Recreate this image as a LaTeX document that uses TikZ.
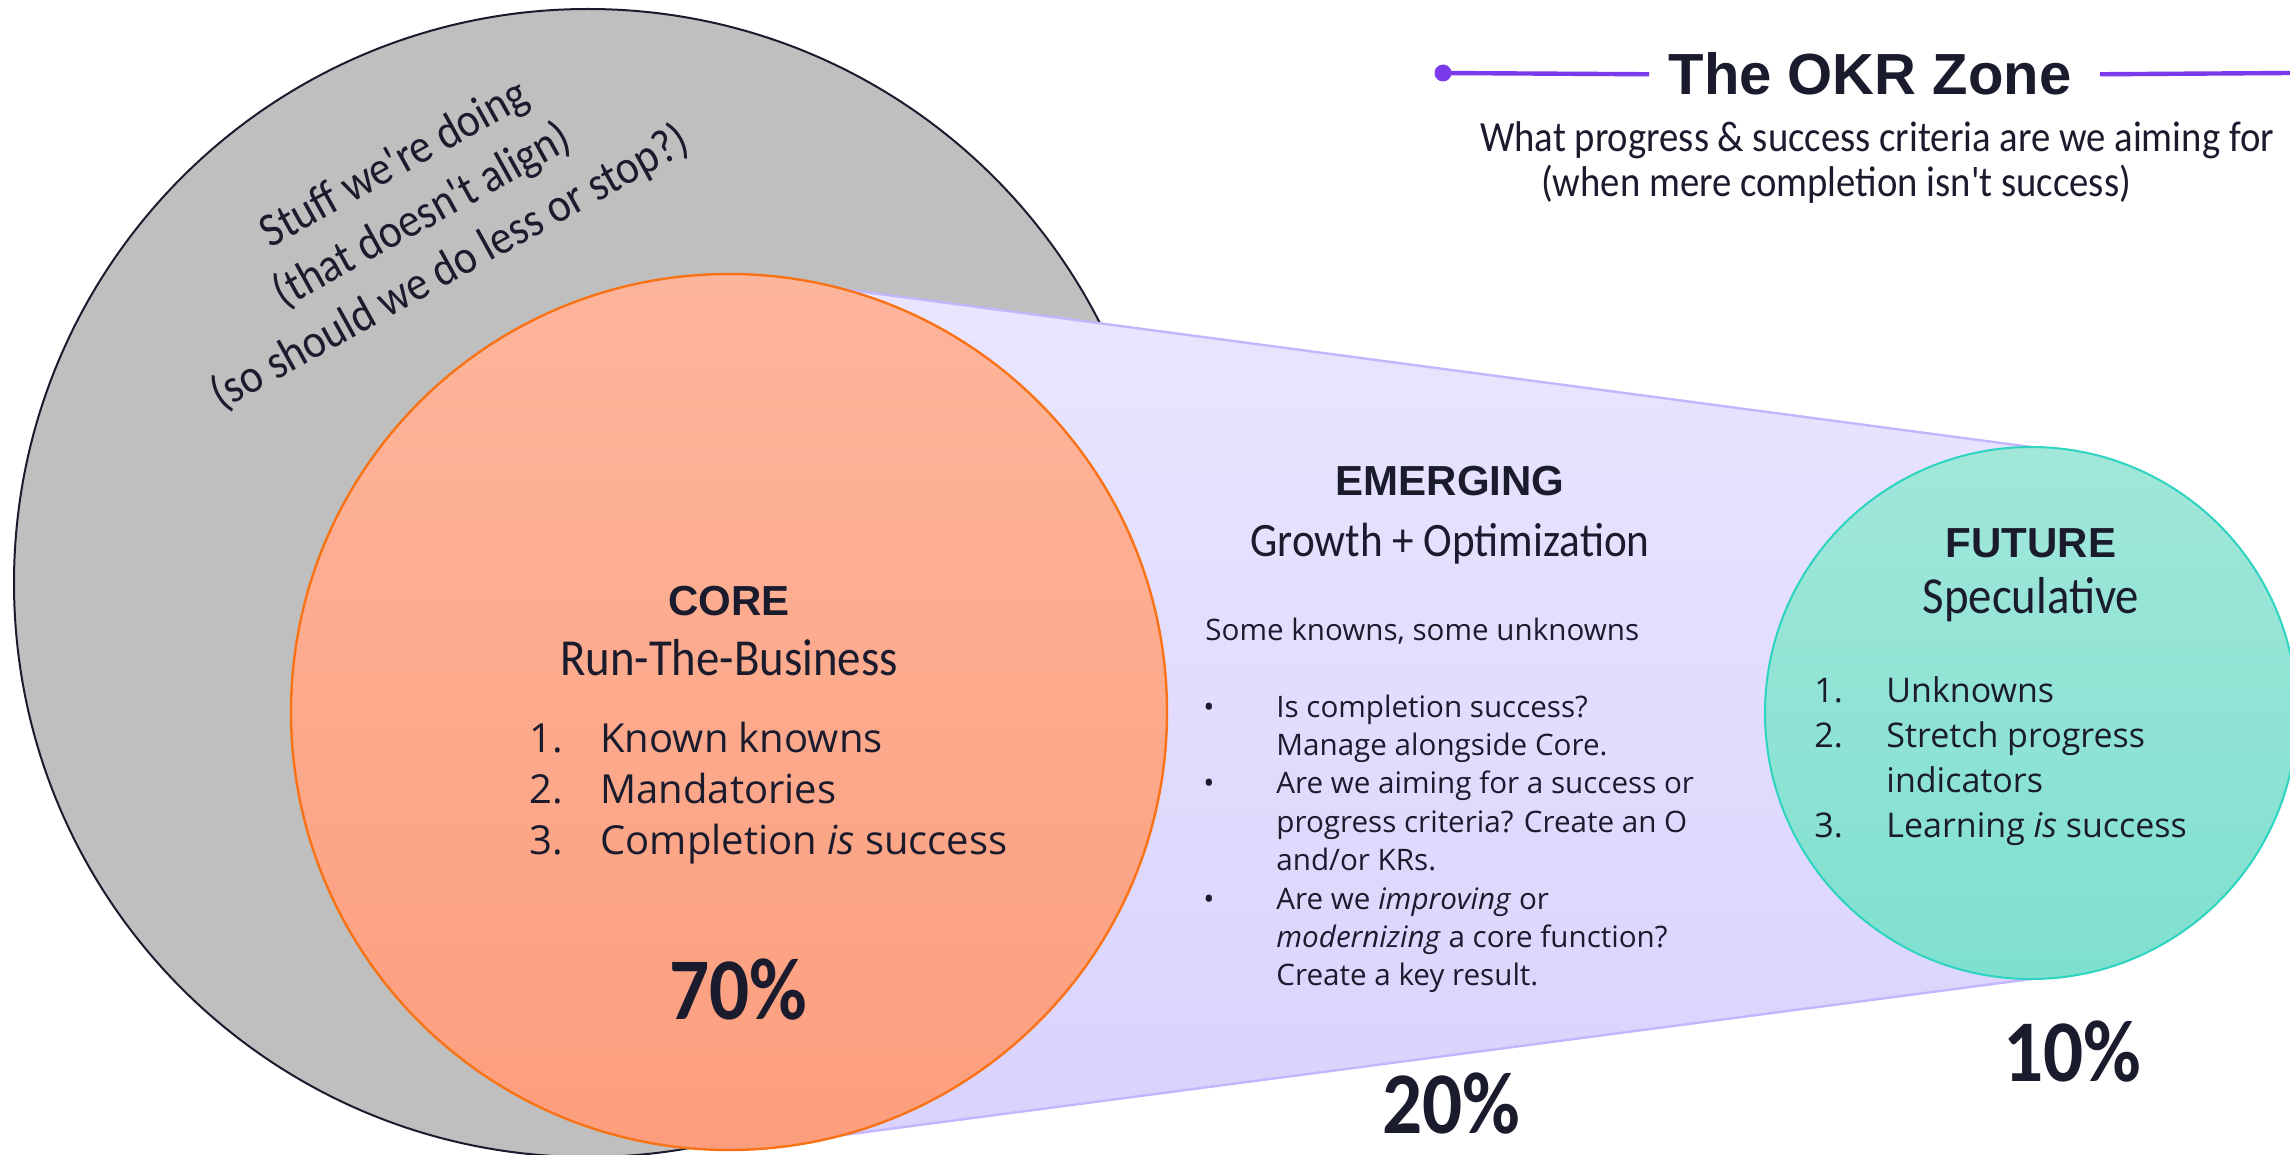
\documentclass[tikz,border=0pt]{standalone}
\usepackage{fontspec}
\setmainfont{Open Sans}
\newfontfamily\headfont{Liberation Sans}
\newfontfamily\handfont{Carlito}[FakeStretch=0.9]
\usetikzlibrary{backgrounds}

\definecolor{ink}{HTML}{1B1B2E}
\definecolor{stuffgray}{HTML}{BFBFBF}
\definecolor{coretop}{HTML}{FDB59B}
\definecolor{corebot}{HTML}{FC9E7D}
\definecolor{coreline}{HTML}{F97316}
\definecolor{emtop}{HTML}{EAE6FE}
\definecolor{embot}{HTML}{D9D2FD}
\definecolor{emline}{HTML}{C4B5FD}
\definecolor{futtop}{HTML}{A1E7DA}
\definecolor{futbot}{HTML}{7FE0CF}
\definecolor{futline}{HTML}{2DD4BF}
\definecolor{zoneline}{HTML}{7C3AED}

\tikzset{
    zone/.style={circle, inner sep=0pt, outer sep=0pt},
    head/.style={font=\headfont\bfseries\fontsize{21}{24}\selectfont, text=ink, inner sep=0pt},
    hand/.style={font=\handfont\fontsize{26}{30}\selectfont, text=ink, inner sep=0pt},
    pct/.style={font=\handfont\bfseries\fontsize{44}{48}\selectfont, text=ink, inner sep=0pt},
    item/.style={text=ink, inner sep=0pt},
}

\begin{document}
\begin{tikzpicture}[x=0.5pt, y=-0.5pt]
        \useasboundingbox (0,0) rectangle (2290,1155);

        \node[zone, minimum size=438pt, top color=coretop, bottom color=corebot, draw=coreline, line width=1.2pt] (core) at (729,712) {};
        \node[zone, minimum size=266pt, top color=futtop, bottom color=futbot, draw=futline, line width=1pt] (future) at (2031,713) {};

        \begin{pgfonlayer}{background}
                \node[zone, minimum size=574pt, fill=stuffgray, draw=ink, line width=1pt] (stuff) at (588,583) {};
                \path[top color=emtop, bottom color=embot, draw=emline, line width=1.2pt]
                        (core.north) -- (future.north) -- (future.south) -- (core.south) -- cycle;
        \end{pgfonlayer}

        % heading
        \node[circle, fill=zoneline, minimum size=8.5pt, inner sep=0pt] (dot) at (1443,73) {};
        \node[head, font=\headfont\bfseries\fontsize{29}{32}\selectfont, anchor=base] (zone) at (1870,95) {The OKR Zone};
        \coordinate (ruleend) at (2290,73);
        \draw[zoneline, line width=2.2pt] (dot.center) -- ([xshift=-9.5pt]zone.west);
        \draw[zoneline, line width=2.2pt] ([xshift=14pt]zone.east) -- (ruleend);
        \node[hand, font=\handfont\fontsize{21.5}{24}\selectfont, anchor=base] (ask1) at (1877,152) {What progress \& success criteria are we aiming for};
        \node[hand, font=\handfont\fontsize{21.5}{24}\selectfont, anchor=base] (ask2) at (1836,197) {(when mere completion isn't success)};

        % lines in the grey circle
        \foreach \t/\x/\y [count=\i] in {Stuff we're doing/401/176, (that doesn't align)/429/228, (so should we do less or stop?)/457/280} {
                \node[hand, font=\handfont\fontsize{24}{28}\selectfont, anchor=base, rotate=29] (stufftext\i) at (\x,\y) {\t};
            }

        % core
        \node[head, anchor=base] (coretitle) at (729,615) {CORE};
        \node[hand, anchor=base] (coresub) at (729,675) {Run-The-Business};
        \foreach \t [count=\i] in {Known knowns, Mandatories, Completion \emph{is} success} {
                \node[item, font=\fontsize{20}{24}\selectfont, anchor=base west] (corenum\i) at (529,{752+51*(\i-1)}) {\i.};
                \node[item, font=\fontsize{20}{24}\selectfont, anchor=base west] (coreitem\i) at (600,{752+51*(\i-1)}) {\t};
            }
        \node[pct, anchor=base] (corepct) at (738,1019) {70\%};

        % emerging
        \node[head, anchor=base] (emtitle) at (1450,495) {EMERGING};
        \node[hand, font=\handfont\fontsize{24}{28}\selectfont, anchor=base] (emsub) at (1450,556) {Growth + Optimization};
        \node[item, font=\fontsize{14.8}{18}\selectfont, anchor=base west] (emintro) at (1205,640) {Some knowns, some unknowns};
        \foreach \t [count=\i] in {Is completion success?, Manage alongside Core., Are we aiming for a success or,
                progress criteria? Create an O, and/or KRs., Are we \emph{improving} or,
                \emph{modernizing} a core function?, Create a key result.} {
                \node[item, font=\fontsize{14.8}{18}\selectfont, anchor=base west] (emline\i) at (1276,{717+38.4*(\i-1)}) {\t};
            }
        \foreach \i in {1, 3, 6} {
                \node[item, font=\fontsize{14.8}{18}\selectfont, anchor=base] (embul\i) at (1209,{717+38.4*(\i-1)}) {\textbullet};
            }
        \node[pct, anchor=base] (empct) at (1451,1133) {20\%};

        % future
        \node[head, anchor=base] (futtitle) at (2031,557) {FUTURE};
        \node[hand, anchor=base] (futsub) at (2031,613) {Speculative};
        \foreach \n/\t [count=\i] in {1./Unknowns, 2./Stretch progress, /indicators, 3./Learning \emph{is} success} {
                \node[item, font=\fontsize{17}{20}\selectfont, anchor=base west] (futnum\i) at (1814,{702+45*(\i-1)}) {\n};
                \node[item, font=\fontsize{17}{20}\selectfont, anchor=base west] (futitem\i) at (1886,{702+45*(\i-1)}) {\t};
            }
        \node[pct, anchor=base] (futpct) at (2072,1081) {10\%};
    \end{tikzpicture}
\end{document}
